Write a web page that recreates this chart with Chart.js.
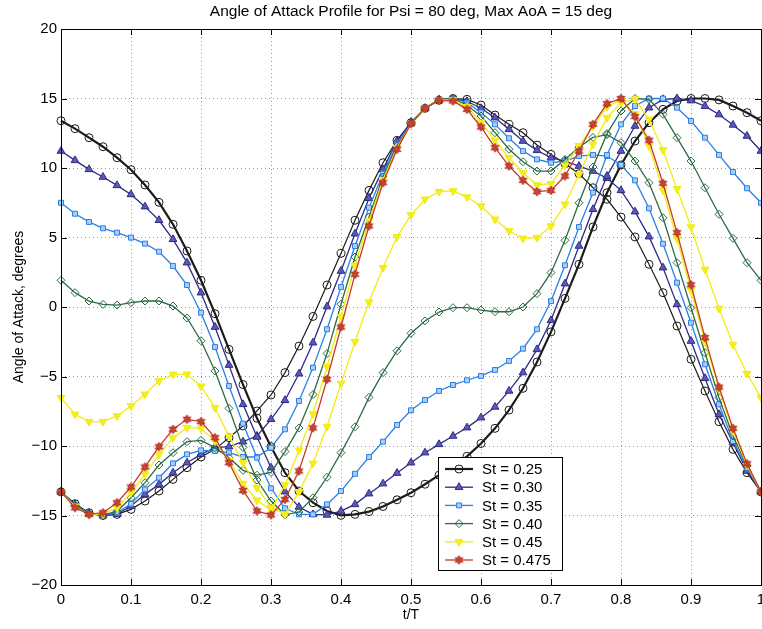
<!DOCTYPE html>
<html>
<head>
<meta charset="utf-8">
<script src="https://cdn.jsdelivr.net/npm/chart.js@4/dist/chart.umd.min.js"></script>
<style>
  html, body { margin: 0; padding: 0; background: #fff; }
  #wrap { width: 762px; height: 629px; overflow: hidden; }
  canvas { display: block; }
</style>
</head>
<body>
<div id="wrap"><canvas id="aoaChart" width="800" height="629"></canvas></div>
<script>
// t/T sample points
const tValues = [0, 0.02, 0.04, 0.06, 0.08, 0.1, 0.12, 0.14, 0.16, 0.18,
  0.2, 0.22, 0.24, 0.26, 0.28, 0.3, 0.32, 0.34, 0.36, 0.38,
  0.4, 0.42, 0.44, 0.46, 0.48, 0.5, 0.52, 0.54, 0.56, 0.58,
  0.6, 0.62, 0.64, 0.66, 0.68, 0.7, 0.72, 0.74, 0.76, 0.78,
  0.8, 0.82, 0.84, 0.86, 0.88, 0.9, 0.92, 0.94, 0.96, 0.98, 1.0];

const xTicks = [0, 0.1, 0.2, 0.3, 0.4, 0.5, 0.6, 0.7, 0.8, 0.9, 1];
const yTicks = [-20, -15, -10, -5, 0, 5, 10, 15, 20];

const stLabels = ['St = 0.25', 'St = 0.30', 'St = 0.35', 'St = 0.40', 'St = 0.45', 'St = 0.475'];

// angle of attack, degrees (two branches per Strouhal number)
const st025A = [13.4, 12.83, 12.18, 11.53, 10.74, 9.88, 8.78, 7.53, 5.95, 4.03,
  1.92, -0.48, -3.05, -5.58, -8.0, -10.05, -11.92, -13.24, -14.08, -14.68,
  -14.99, -14.92, -14.72, -14.35, -13.87, -13.36, -12.75, -12.1, -11.45, -10.74,
  -9.82, -8.73, -7.42, -5.85, -3.96, -1.79, 0.62, 3.07, 5.76, 8.22,
  10.22, 11.94, 13.26, 14.22, 14.82, 15.0, 15.0, 14.9, 14.46, 13.98, 13.4];
const st025B = [-13.3, -14.15, -14.8, -15.0, -14.92, -14.56, -13.96, -13.24, -12.4, -11.56,
  -10.79, -10.24, -9.4, -8.56, -7.48, -6.33, -4.72, -2.81, -0.68, 1.58,
  3.86, 6.24, 8.39, 10.38, 11.99, 13.26, 14.29, 14.87, 15.0, 14.94,
  14.53, 13.81, 13.14, 12.54, 11.65, 10.98, 10.3, 9.59, 8.58, 7.75,
  6.47, 5.04, 3.07, 1.03, -1.37, -3.76, -6.04, -8.25, -10.24, -11.92, -13.3];
const st030A = [11.22, 10.55, 9.9, 9.35, 8.75, 8.1, 7.22, 6.24, 4.87, 3.19,
  1.03, -1.44, -4.18, -7.0, -9.35, -11.56, -13.29, -14.39, -14.92, -14.96,
  -14.68, -14.2, -13.43, -12.71, -11.95, -11.2, -10.48, -9.88, -9.28, -8.68,
  -7.96, -7.19, -6.04, -4.72, -3.05, -0.96, 1.68, 4.39, 7.03, 9.42,
  11.22, 13.02, 14.34, 14.94, 15.0, 14.85, 14.45, 13.85, 13.1, 12.3, 11.22];
const st030B = [-13.3, -14.2, -14.85, -15.0, -14.9, -14.32, -13.48, -12.76, -11.92, -11.2,
  -10.6, -10.12, -10.05, -9.69, -9.28, -8.08, -6.71, -4.8, -2.57, 0.03,
  2.59, 5.27, 7.82, 9.9, 11.94, 13.3, 14.3, 14.9, 15.0, 14.8,
  14.3, 13.62, 12.78, 11.94, 11.27, 10.74, 10.5, 10.14, 9.78, 9.26,
  8.39, 6.86, 5.06, 2.83, 0.19, -2.45, -5.13, -7.72, -9.76, -11.8, -13.3];
const st035A = [7.5, 6.71, 6.12, 5.66, 5.35, 4.99, 4.56, 3.98, 2.95, 1.58,
  -0.41, -2.88, -5.68, -8.39, -10.84, -13.04, -14.48, -14.92, -14.92, -14.2,
  -13.24, -12.0, -10.79, -9.69, -8.49, -7.43, -6.69, -6.04, -5.61, -5.27,
  -4.96, -4.53, -3.88, -3.0, -1.6, 0.42, 3.0, 5.76, 8.22, 10.94,
  13.14, 14.46, 15.0, 15.0, 14.34, 13.38, 12.18, 10.94, 9.71, 8.54, 7.5];
const st035B = [-13.3, -14.25, -14.85, -15.0, -14.8, -14.15, -13.12, -12.28, -11.25, -10.6,
  -10.31, -10.36, -10.48, -10.79, -10.79, -10.12, -8.8, -6.76, -4.36, -1.6,
  1.44, 4.39, 7.15, 9.59, 11.7, 13.2, 14.3, 14.9, 15.0, 14.7,
  14.0, 13.14, 12.14, 11.22, 10.62, 10.38, 10.5, 10.86, 10.94, 10.86,
  10.22, 9.11, 7.1, 4.55, 1.75, -1.13, -4.12, -7.0, -9.64, -11.56, -13.3];
const st040A = [1.92, 1.03, 0.43, 0.19, 0.14, 0.31, 0.43, 0.43, 0.07, -0.79,
  -2.43, -4.6, -7.29, -10.1, -12.45, -13.96, -14.95, -14.75, -13.72, -12.25,
  -10.48, -8.62, -6.5, -4.72, -3.15, -1.89, -1.0, -0.36, -0.05, -0.05,
  -0.22, -0.34, -0.34, 0.0, 0.96, 2.47, 4.8, 7.5, 10.07, 12.47,
  14.1, 15.0, 14.94, 13.86, 12.18, 10.5, 8.58, 6.67, 4.94, 3.19, 1.92];
const st040B = [-13.3, -14.3, -14.9, -14.95, -14.7, -13.72, -12.64, -11.37, -10.48, -9.69,
  -9.59, -10.12, -10.84, -11.75, -12.1, -11.9, -10.4, -8.7, -6.3, -3.35,
  0.2, 3.6, 6.47, 9.35, 11.58, 13.2, 14.3, 14.95, 15.0, 14.5,
  13.74, 12.54, 11.35, 10.45, 9.78, 9.78, 10.62, 11.5, 12.2, 12.4,
  11.82, 10.5, 8.94, 6.42, 3.19, -0.05, -3.29, -6.52, -9.28, -11.44, -13.3];
const st045A = [-6.52, -7.72, -8.25, -8.25, -7.84, -7.12, -6.28, -5.32, -4.84, -4.84,
  -5.7, -7.24, -9.3, -11.2, -13.0, -14.4, -14.9, -13.3, -11.25, -8.6,
  -5.5, -2.5, 0.35, 2.83, 5.05, 6.62, 7.75, 8.3, 8.35, 7.91,
  7.27, 6.31, 5.47, 4.94, 4.99, 5.83, 7.39, 9.54, 11.7, 13.62,
  14.7, 14.95, 13.5, 11.3, 8.5, 5.75, 2.7, -0.1, -2.7, -4.8, -6.52];
const st045B = [-13.3, -14.35, -14.95, -14.9, -14.44, -13.36, -12.04, -10.6, -9.4, -8.68,
  -8.73, -9.64, -11.05, -12.7, -13.9, -14.6, -12.8, -10.3, -7.7, -4.3,
  -0.7, 3.0, 6.2, 9.15, 11.45, 13.2, 14.3, 14.9, 14.9, 14.4,
  13.3, 11.99, 10.74, 9.66, 8.78, 8.87, 10.2, 11.6, 13.0, 14.4,
  14.9, 13.9, 11.6, 8.4, 4.9, 1.2, -2.5, -5.9, -8.9, -11.4, -13.3];
const st0475 = [-13.3, -14.44, -14.92, -14.8, -14.08, -12.95, -11.51, -10.05, -8.8, -8.08,
  -8.25, -9.4, -11.2, -13.2, -14.68, -14.96, -13.84, -11.8, -8.7, -5.2,
  -1.44, 2.35, 5.83, 8.94, 11.34, 13.19, 14.29, 14.87, 14.82, 14.22,
  12.95, 11.46, 10.14, 9.11, 8.3, 8.39, 9.42, 11.22, 13.14, 14.63,
  15.0, 13.7, 12.0, 8.9, 5.35, 1.6, -2.2, -5.76, -8.73, -11.27, -13.3];

const branches = [[st025A, st025B], [st030A, st030B], [st035A, st035B],
  [st040A, st040B], [st045A, st045B], [st0475]];

const FONT = "'Liberation Sans', Arial, Helvetica, sans-serif";
const titleText = 'Angle of Attack Profile for Psi = 80 deg, Max AoA = 15 deg';

// filled six-point star for the St = 0.475 markers
function starImage(fill, edge, r) {
  const c = document.createElement('canvas');
  const size = Math.ceil(r * 2 + 2);
  c.width = size; c.height = size;
  const g = c.getContext('2d');
  g.beginPath();
  for (let k = 0; k < 12; k++) {
    const ang = -Math.PI / 2 + k * Math.PI / 6;
    const rr = k % 2 === 0 ? r : r * 0.55;
    g.lineTo(size / 2 + rr * Math.cos(ang), size / 2 + rr * Math.sin(ang));
  }
  g.closePath();
  g.fillStyle = fill; g.fill();
  g.strokeStyle = edge; g.lineWidth = 0.8; g.stroke();
  return c;
}

const looks = [
  { color: '#1b1b1b', face: 'rgba(255,255,255,0)', shape: 'circle', radius: 4, rot: 0, widthA: 2.2, widthB: 1.2 },
  { color: '#2d2b85', face: '#5d57b8', shape: 'triangle', radius: 4.5, rot: 0, widthA: 1.3, widthB: 1.3 },
  { color: '#2b80e6', face: '#a9cdf7', shape: 'rect', radius: 3.5, rot: 0, widthA: 1.3, widthB: 1.3 },
  { color: '#2c6b46', face: 'rgba(255,255,255,0)', shape: 'rectRot', radius: 4, rot: 0, widthA: 1.3, widthB: 1.3 },
  { color: '#f2ec10', face: '#f4ee20', shape: 'triangle', radius: 4.5, rot: 180, widthA: 1.3, widthB: 1.3 },
  { color: '#c9392a', face: '#c9392a', shape: starImage('#d0402e', '#9a2418', 4.5), radius: 4.5, rot: 0, widthA: 1.3, widthB: 1.3 }
];

const datasets = [];
branches.forEach((pair, s) => {
  const lk = looks[s];
  pair.forEach((vals, k) => {
    datasets.push({
      label: stLabels[s],
      data: vals.map((v, i) => ({ x: tValues[i], y: v })),
      borderColor: lk.color,
      backgroundColor: lk.face,
      borderWidth: k === 0 ? lk.widthA : lk.widthB,
      pointStyle: lk.shape,
      pointRotation: lk.rot,
      pointRadius: lk.radius,
      pointBorderWidth: 1,
      pointBorderColor: lk.color,
      pointBackgroundColor: lk.face,
      tension: 0,
      clip: false,
      order: 10 - s
    });
  });
});

const framePlugin = {
  id: 'frame',
  afterDraw(chart) {
    const { ctx, chartArea: a, scales: { x, y } } = chart;
    ctx.save();
    ctx.strokeStyle = '#000';
    ctx.lineWidth = 1;
    ctx.strokeRect(a.left + 0.5, a.top + 0.5, a.right - a.left, a.bottom - a.top);
    ctx.beginPath();
    xTicks.forEach(v => {
      const px = Math.round(x.getPixelForValue(v)) + 0.5;
      ctx.moveTo(px, a.bottom); ctx.lineTo(px, a.bottom - 6);
      ctx.moveTo(px, a.top); ctx.lineTo(px, a.top + 6);
    });
    yTicks.forEach(v => {
      const py = Math.round(y.getPixelForValue(v)) + 0.5;
      ctx.moveTo(a.left, py); ctx.lineTo(a.left + 6, py);
      ctx.moveTo(a.right, py); ctx.lineTo(a.right - 6, py);
    });
    ctx.stroke();

    // title
    ctx.fillStyle = '#000';
    ctx.font = '15.5px ' + FONT;
    ctx.textAlign = 'center';
    ctx.textBaseline = 'alphabetic';
    ctx.fillText(titleText, (a.left + a.right) / 2, 16);

    // legend box
    const bx = 438, by = 457, bw = 124, bh = 113;
    ctx.fillStyle = '#fff';
    ctx.fillRect(bx, by, bw, bh);
    ctx.strokeRect(bx + 0.5, by + 0.5, bw, bh);
    ctx.font = '15px ' + FONT;
    ctx.textAlign = 'left';
    ctx.textBaseline = 'middle';
    stLabels.forEach((lab, i) => {
      const lk = looks[i];
      const yy = 469 + i * 18.2;
      ctx.strokeStyle = lk.color;
      ctx.lineWidth = lk.widthA;
      ctx.beginPath();
      ctx.moveTo(445, yy); ctx.lineTo(473, yy);
      ctx.stroke();
      ctx.lineWidth = 1;
      ctx.fillStyle = lk.face;
      Chart.helpers.drawPoint(ctx, { pointStyle: lk.shape, rotation: lk.rot, radius: lk.radius, borderWidth: 1 }, 459, yy);
      ctx.fillStyle = '#000';
      ctx.fillText(lab, 482, yy + 1);
    });
    ctx.restore();
  }
};

const gridStyle = { color: '#9a9a9a', lineWidth: 1, drawTicks: false };

new Chart(document.getElementById('aoaChart').getContext('2d'), {
  type: 'line',
  data: { datasets: datasets },
  options: {
    responsive: false,
    animation: false,
    devicePixelRatio: 1,
    layout: { padding: { left: 0, top: 29, right: 39, bottom: 0 } },
    plugins: {
      legend: { display: false },
      title: { display: false },
      tooltip: { enabled: false }
    },
    scales: {
      x: {
        type: 'linear',
        min: 0,
        max: 1,
        afterFit: s => { s.height = 44; },
        afterBuildTicks: s => { s.ticks = xTicks.map(v => ({ value: v })); },
        grid: gridStyle,
        border: { display: false, dash: [1, 3] },
        ticks: {
          padding: 6,
          color: '#000',
          font: { size: 15, family: FONT },
          maxRotation: 0,
          callback: v => (v === 0 ? '0' : v === 1 ? '1' : v.toFixed(1))
        },
        title: { display: true, text: 't/T', color: '#000', font: { size: 14, family: FONT }, padding: { top: 0, bottom: 5 } }
      },
      y: {
        type: 'linear',
        min: -20,
        max: 20,
        afterFit: s => { s.width = 61; },
        afterBuildTicks: s => { s.ticks = yTicks.map(v => ({ value: v })); },
        grid: gridStyle,
        border: { display: false, dash: [1, 3] },
        ticks: {
          padding: 4,
          color: '#000',
          font: { size: 15, family: FONT },
          callback: v => String(v).replace('-', '\u2212')
        },
        title: { display: true, text: 'Angle of Attack, degrees', color: '#000', font: { size: 14, family: FONT }, padding: { top: 11, bottom: 0 } }
      }
    }
  },
  plugins: [framePlugin]
});
</script>
</body>
</html>
